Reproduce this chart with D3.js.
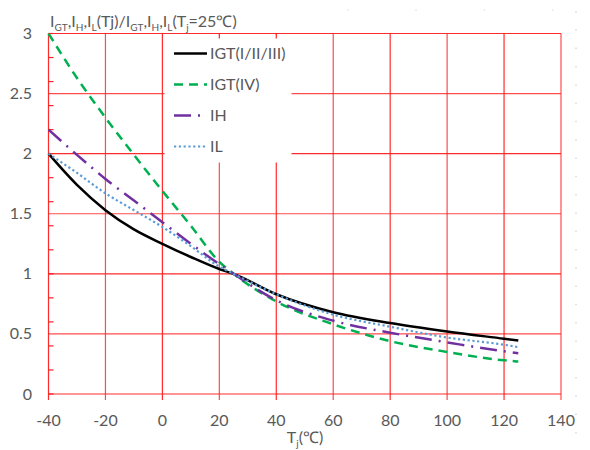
<!DOCTYPE html>
<html>
<head>
<meta charset="utf-8">
<script src="https://cdn.jsdelivr.net/npm/d3@7"></script>
<style>
  body { margin: 0; background: #fff; }
  svg text { font-family: Lato, "Open Sans", sans-serif; fill: #595959; }
</style>
</head>
<body>
<svg id="chart" width="590" height="450"></svg>
<script>
// junction temperature (°C) and normalised currents
const temps = [-40, -30, -20, -10, 0, 10, 20, 25, 40, 60, 80, 100, 120, 125];
const igt123 = [2.0, 1.74, 1.53, 1.37, 1.25, 1.14, 1.04, 1.0, 0.83, 0.68, 0.59, 0.52, 0.46, 0.445];
const igt4 = [3.0, 2.63, 2.30, 1.99, 1.69, 1.40, 1.10, 1.0, 0.77, 0.58, 0.44, 0.35, 0.28, 0.27];
const ih = [2.2, 1.99, 1.79, 1.61, 1.43, 1.25, 1.08, 1.0, 0.78, 0.61, 0.51, 0.43, 0.355, 0.34];
const il = [2.0, 1.84, 1.67, 1.53, 1.39, 1.23, 1.06, 1.0, 0.83, 0.66, 0.56, 0.47, 0.41, 0.39];

const seriesNames = ["IGT(I/II/III)", "IGT(IV)", "IH", "IL"];
const xTicks = [-40, -20, 0, 20, 40, 60, 80, 100, 120, 140];
const yTicks = [0, 0.5, 1, 1.5, 2, 2.5, 3];

const series = [
    {name: seriesNames[0], values: igt123, color: "#000000", width: 2.5, dash: null},
    {name: seriesNames[1], values: igt4, color: "#00B050", width: 2.5, dash: "9,6"},
    {name: seriesNames[2], values: ih, color: "#7030A0", width: 2.5, dash: "17,7,2,7"},
    {name: seriesNames[3], values: il, color: "#5B9BD5", width: 2.2, dash: "2.2,2.6"},
];

const fs = 16;
const svg = d3.select("#chart");
const x = d3.scaleLinear().domain([-40, 140]).range([48.5, 561]);
const y = d3.scaleLinear().domain([0, 3]).range([394, 33.5]);
const grid = "#FF2020";

// faint dotted frame remnants on the right / top
svg.append("line")
    .attr("x1", 576).attr("x2", 576).attr("y1", 11).attr("y2", 440)
    .attr("stroke", "#d0d0d0").attr("stroke-width", 1.2)
    .attr("stroke-dasharray", "1.5,16.8");
svg.append("line")
    .attr("x1", 347).attr("x2", 576).attr("y1", 10).attr("y2", 10)
    .attr("stroke", "#d8d8d8").attr("stroke-width", 1.2)
    .attr("stroke-dasharray", "1.5,66.8");

// grid
const gGrid = svg.append("g").attr("class", "grid");
gGrid.selectAll("line.v")
    .data(xTicks)
    .join("line")
    .attr("class", "v")
    .attr("x1", d => x(d)).attr("x2", d => x(d))
    .attr("y1", y(3)).attr("y2", y(0) + 6)
    .attr("stroke", grid).attr("stroke-width", 1.2).attr("opacity", (d, i) => i % 2 ? 0.8 : 0.95);
gGrid.selectAll("line.h")
    .data(yTicks)
    .join("line")
    .attr("class", "h")
    .attr("x1", x(-40)).attr("x2", x(140))
    .attr("y1", d => y(d)).attr("y2", d => y(d))
    .attr("stroke", grid).attr("stroke-width", 1.2).attr("opacity", (d, i) => i % 2 ? 0.8 : 0.95);

// minor ticks on the left axis every 0.2
svg.append("g")
    .selectAll("line")
    .data(d3.range(0, 3.01, 0.2))
    .join("line")
    .attr("x1", x(-40)).attr("x2", x(-40) + 5)
    .attr("y1", d => y(d)).attr("y2", d => y(d))
    .attr("stroke", grid).attr("stroke-width", 1.2);

// curves
const line = d3.line()
    .x((d, i) => x(temps[i]))
    .y(d => y(d))
    .curve(d3.curveMonotoneX);

svg.append("g")
    .selectAll("path")
    .data(series)
    .join("path")
    .attr("d", s => line(s.values))
    .attr("fill", "none")
    .attr("stroke", s => s.color)
    .attr("stroke-width", s => s.width)
    .attr("stroke-dasharray", s => s.dash);

// legend
const legend = svg.append("g").attr("class", "legend");
legend.append("rect")
    .attr("x", 164.5).attr("y", 34.5).attr("width", 127).attr("height", 128)
    .attr("fill", "#fff");
// top ticks show through the legend box
legend.selectAll("line.tick")
    .data([20, 40])
    .join("line")
    .attr("class", "tick")
    .attr("x1", d => x(d)).attr("x2", d => x(d))
    .attr("y1", y(3)).attr("y2", y(3) + 5)
    .attr("stroke", grid).attr("stroke-width", 1.2);
const item = legend.selectAll("g.item")
    .data(series)
    .join("g")
    .attr("class", "item")
    .attr("transform", (d, i) => `translate(0, ${53.5 + i * 31})`);
item.append("line")
    .attr("x1", 174).attr("x2", 207)
    .attr("stroke", s => s.color)
    .attr("stroke-width", s => s.width)
    .attr("stroke-dasharray", s => s.dash);
item.append("text")
    .attr("x", 210).attr("y", 5.5)
    .attr("font-size", fs)
    .text(s => s.name);

// axis labels
svg.append("g")
    .selectAll("text")
    .data(xTicks)
    .join("text")
    .attr("x", d => x(d)).attr("y", 426)
    .attr("text-anchor", "middle")
    .attr("font-size", fs)
    .text(d => d);
svg.append("g")
    .selectAll("text")
    .data(yTicks)
    .join("text")
    .attr("x", 32).attr("y", d => y(d) + 5.5)
    .attr("text-anchor", "end")
    .attr("font-size", fs)
    .text(d => d);

// titles
const xt = svg.append("text")
    .attr("x", 305).attr("y", 443)
    .attr("text-anchor", "middle")
    .attr("font-size", fs);
xt.append("tspan").text("T");
xt.append("tspan").attr("font-size", 10).attr("dy", 4).text("j");
xt.append("tspan").attr("dy", -4).text("(℃)");

const yt = svg.append("text")
    .attr("x", 50).attr("y", 27)
    .attr("font-size", fs);
const titleParts = [
    ["I", 0], ["GT", 1], [",I", 0], ["H", 1], [",I", 0], ["L", 1], ["(Tj)/I", 0],
    ["GT", 1], [",I", 0], ["H", 1], [",I", 0], ["L", 1], ["(T", 0], ["j", 1], ["=25℃)", 0]
];
let low = false;
titleParts.forEach(([t, sub]) => {
    const dy = sub && !low ? 4 : (!sub && low ? -4 : 0);
    low = !!sub;
    yt.append("tspan")
        .attr("dy", dy)
        .attr("font-size", sub ? 10 : fs)
        .text(t);
});
</script>
</body>
</html>
